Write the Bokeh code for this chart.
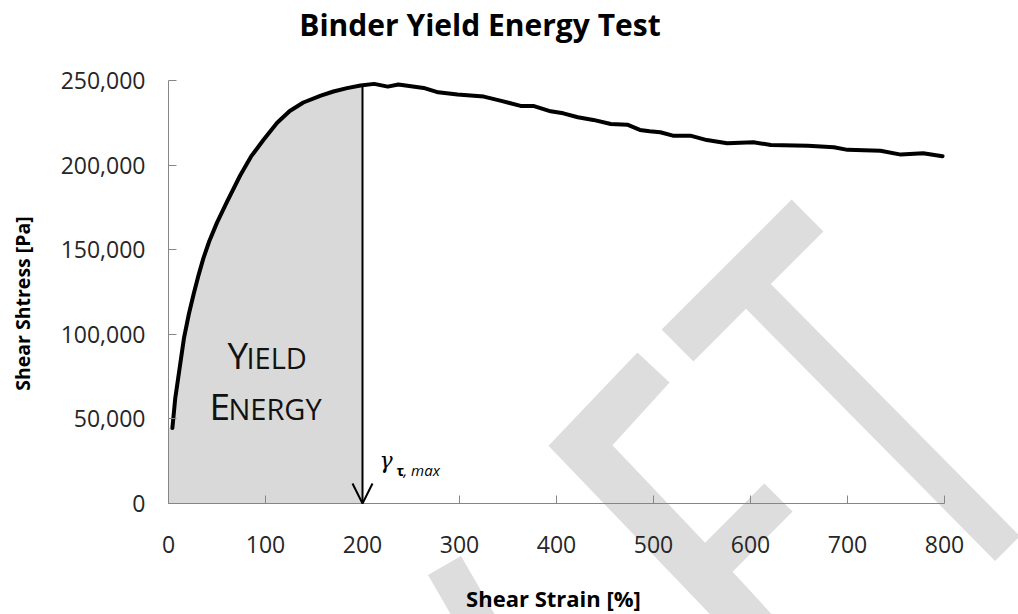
import math
from bokeh.plotting import figure
from bokeh.models import Label, Arrow, OpenHead, PolyAnnotation, NumeralTickFormatter, Range1d
from bokeh.embed import file_html
from bokeh.resources import INLINE
import numpy as np

# ---------------- data ----------------
strain = [4, 7, 11, 16, 21, 26, 31, 36, 42, 50, 60, 74, 85, 98, 112, 125, 139, 157, 170, 184,
          198, 212, 226, 237, 263, 278, 298, 325, 342, 363, 376, 394, 407, 422, 438, 456, 473, 486, 496, 507,
          520, 538, 555, 576, 603, 621, 659, 686, 700, 734, 755, 778, 798]
stress = [44600, 62400, 78200, 97900, 112000, 124000, 135000, 145000, 155000, 166000,
          178000, 194000, 205000, 215000, 225000, 232000, 237000, 241000, 243500, 245500,
          247000, 248000, 246400, 247600, 245600, 243000, 241700, 240500, 238100, 235000,
          235000, 231800, 230600, 228300, 226700, 224300, 223900, 220800, 220000, 219400,
          217400, 217400, 214800, 212900, 213500, 211900, 211500, 210500, 209000, 208500,
          206200, 207000, 205200]
x_ticks = [0, 100, 200, 300, 400, 500, 600, 700, 800]
y_ticks = [0, 50000, 100000, 150000, 200000, 250000]
yield_strain = 200
x_bounds = (0, 800)
y_bounds = (0, 250000)

# ---------------- layout ----------------
W, H = 1018, 614
# plot-area position on the canvas (px)
PL, PR, PT, PB = 168, 944, 80, 503
XS = (x_bounds[1] - x_bounds[0]) / (PR - PL)
YS = (y_bounds[1] - y_bounds[0]) / (PB - PT)
BASE_SHIFT = 0.38  # em: correction between requested and drawn text baseline

def dx(px):  # canvas pixel -> data x
    return x_bounds[0] + (px - PL) * XS

def dy(py):  # canvas pixel -> data y
    return y_bounds[0] + (PB - py) * YS

FONT = "Open Sans"

p = figure(width=W, height=H, output_backend="svg", toolbar_location=None,
           x_range=Range1d(dx(0), dx(W)), y_range=Range1d(dy(H), dy(0)),
           min_border_left=0, min_border_right=0, min_border_top=0, min_border_bottom=0)
p.grid.visible = False
p.outline_line_color = None
p.background_fill_color = "white"
p.border_fill_color = "white"

# watermark (decoration, behind everything)
wm_shapes = [
    [(661.1, 329.1), (791.1, 199.1), (822.9, 230.9), (770.3, 283.5), (1019.4, 535.6),
     (994.6, 560.4), (745.5, 308.3), (692.9, 360.9)],
    [(548, 445.2), (636.9, 352.0), (669.1, 382.0), (612, 444.8), (704.6, 542.2), (763.9, 482.9),
     (792.1, 511.1), (732.1, 571.2), (786, 629.8), (754, 660.2)],
    [(427.5, 574.5), (460.5, 555.5), (510.5, 642.1), (477.5, 661.1)],
]
for shp in wm_shapes:
    p.add_layout(PolyAnnotation(xs=[dx(a) for a, b in shp], ys=[dy(b) for a, b in shp],
                                xs_units="data", ys_units="data",
                                fill_color="#dddddd", fill_alpha=1.0, line_color=None,
                                level="underlay"))

# shaded yield-energy region
sx = np.array(strain, dtype=float)
sy = np.array(stress, dtype=float)
y_yield = float(np.interp(yield_strain, sx, sy))
mask = sx <= yield_strain
px_ = [0, 0] + list(sx[mask]) + [yield_strain, yield_strain]
py_ = [0, sy[0]] + list(sy[mask]) + [y_yield, 0]
p.patch(px_, py_, fill_color="#d9d9d9", line_color=None)

# curve
p.line(strain, stress, line_width=4, line_color="black", line_join="round", line_cap="round")

# arrow at the yield strain
p.add_layout(Arrow(end=OpenHead(size=20, line_width=2, line_color="black"),
                   x_start=yield_strain, y_start=y_yield, x_end=yield_strain, y_end=0,
                   line_width=2, line_color="black"))

# axes (fixed at the origin, bounded to the data extent)
xa, ya = p.xaxis[0], p.yaxis[0]
xa.fixed_location = 0
ya.fixed_location = 0
xa.bounds = x_bounds
ya.bounds = y_bounds
for ax in (xa, ya):
    ax.axis_line_color = "#868686"
    ax.major_tick_line_color = "#868686"
    ax.major_tick_in = 8
    ax.major_tick_out = 0
    ax.minor_tick_line_color = None
    ax.major_label_text_font = FONT
    ax.major_label_text_font_size = "23px"
    ax.major_label_text_color = "#262626"
xa.ticker = x_ticks
ya.ticker = y_ticks
ya.formatter = NumeralTickFormatter(format="0,0")
xa.major_label_standoff = 32
ya.major_label_standoff = 23


def text_at(txt, xpx, ypx, size, font=FONT, style="normal", align="left", color="black", vertical=False):
    """Place text with its baseline at canvas pixel (xpx, ypx)."""
    shift = BASE_SHIFT * size
    if vertical:
        x, y, ang = dx(xpx - shift), dy(ypx), math.pi / 2
    else:
        x, y, ang = dx(xpx), dy(ypx - shift), 0
    p.add_layout(Label(x=x, y=y, text=txt, angle=ang, text_font=font,
                       text_font_size=f"{size}px", text_font_style=style,
                       text_align=align, text_baseline="alphabetic", text_color=color))


# title and axis titles
text_at("Binder Yield Energy Test", 479.5, 35, 30, style="bold", align="center")
text_at("Shear Strain [%]", 553, 606, 22, style="bold", align="center")
text_at("Shear Shtress [Pa]", 29, 303, 19.5, style="bold", align="center", vertical=True)

# YIELD ENERGY (small caps)
text_at("Y", 227, 368, 37, color="#111111")
text_at("IELD", 246, 368, 29, color="#111111")
text_at("E", 209, 419, 37, color="#111111")
text_at("NERGY", 228, 419, 29, color="#111111")

# gamma tau,max
text_at("γ", 379, 468, 22, font="DejaVu Serif", style="italic")
text_at("τ", 396, 475, 14, style="bold")
text_at(", max", 403, 475, 15, style="italic")

open("out.html", "w").write(file_html(p, INLINE))
